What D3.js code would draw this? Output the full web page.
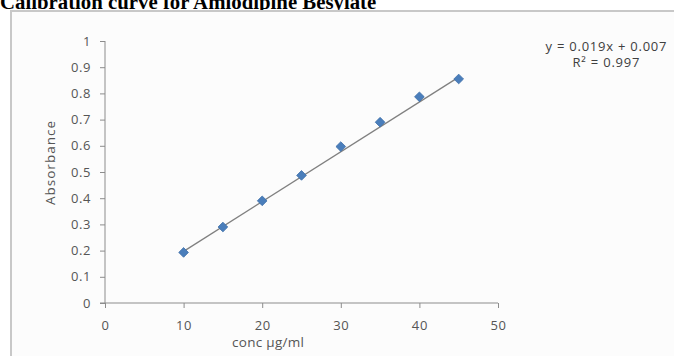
<!DOCTYPE html>
<html>
<head>
<meta charset="utf-8">
<script src="https://cdn.jsdelivr.net/npm/d3@7"></script>
<style>
  body { margin: 0; background: #fff; }
  svg { display: block; }
</style>
</head>
<body>
<script>
// data
const conc = [10, 15, 20, 25, 30, 35, 40, 45];
const absorbance = [0.193, 0.29, 0.39, 0.487, 0.597, 0.69, 0.787, 0.855];
const xTicks = [0, 10, 20, 30, 40, 50];
const yTicks = [0, 0.1, 0.2, 0.3, 0.4, 0.5, 0.6, 0.7, 0.8, 0.9, 1];
const slope = 0.019;
const intercept = 0.007;
const eqLines = ["y = 0.019x + 0.007", "R\u00b2 = 0.997"];

const width = 674, height = 356;
const svg = d3.select("body").append("svg")
   .attr("width", width)
   .attr("height", height);

// title (clipped at the top of the page, as in the source)
svg.append("text")
   .attr("x", 0).attr("y", 9)
   .attr("font-family", "'Liberation Serif', 'Times New Roman', serif")
   .attr("font-weight", "bold")
   .attr("font-size", 20.8)
   .attr("fill", "#000")
   .text("Calibration curve for Amlodipine Besylate");

// chart frame
svg.append("rect")
   .attr("x", 11).attr("y", 11)
   .attr("width", 700).attr("height", 400)
   .attr("fill", "#fcfcfc")
   .attr("stroke", "#c8c8c8")
   .attr("stroke-width", 2);

const x = d3.scaleLinear().domain([0, 50]).range([105, 498]);
const y = d3.scaleLinear().domain([0, 1]).range([303, 41]);

const font = "'Open Sans', 'Liberation Sans', sans-serif";
const axisCol = "#8c8c8c";
const textCol = "#555";

// y axis
const yAxis = svg.append("g")
   .attr("transform", "translate(" + x(0) + ",0)")
   .call(d3.axisLeft(y).tickValues(yTicks).tickSize(5).tickPadding(9).tickFormat(d => String(+d.toFixed(1))));
// x axis
const xAxis = svg.append("g")
   .attr("transform", "translate(0," + y(0) + ")")
   .call(d3.axisBottom(x).tickValues(xTicks).tickSize(5).tickPadding(13).tickFormat(d3.format("d")));

[yAxis, xAxis].forEach(g => {
   g.select(".domain").attr("stroke", axisCol).attr("stroke-width", 1);
   g.selectAll(".tick line").attr("stroke", axisCol);
   g.selectAll(".tick text")
    .attr("fill", textCol)
    .attr("font-family", font)
    .attr("font-size", 13)
    .attr("letter-spacing", 0.6);
});
xAxis.select(".domain").attr("d", "M" + (x(0) - 5) + ",0H" + x(50));
yAxis.select(".domain").attr("d", "M0," + y(1) + "V" + y(0));

// axis titles
svg.append("text")
   .attr("x", 268).attr("y", 347)
   .attr("text-anchor", "middle")
   .attr("font-family", font).attr("font-size", 13.5)
   .attr("fill", textCol)
   .attr("textLength", 72)
   .text("conc \u00b5g/ml");

svg.append("text")
   .attr("transform", "translate(55,163) rotate(-90)")
   .attr("text-anchor", "middle")
   .attr("font-family", font).attr("font-size", 13.5)
   .attr("fill", textCol)
   .attr("textLength", 84)
   .text("Absorbance");

// linear trendline over the data range
const xMin = d3.min(conc), xMax = d3.max(conc);
svg.append("line")
   .attr("x1", x(xMin)).attr("y1", y(slope * xMin + intercept))
   .attr("x2", x(xMax)).attr("y2", y(slope * xMax + intercept))
   .attr("stroke", "#808080")
   .attr("stroke-width", 1.3);

// diamond markers
svg.selectAll(".pt")
   .data(conc)
   .enter().append("path")
   .attr("class", "pt")
   .attr("d", d3.symbol().type(d3.symbolDiamond2).size(60))
   .attr("transform", (d, i) => "translate(" + x(d) + "," + y(absorbance[i]) + ")")
   .attr("fill", "#4a7ebb")
   .attr("stroke", "#3d6ea8")
   .attr("stroke-width", 0.8);

// regression equation, one text block with two lines
const eqWidths = [121, 67];
const eq = svg.append("text")
   .attr("text-anchor", "middle")
   .attr("font-family", font).attr("font-size", 13)
   .attr("fill", "#404040");
eq.selectAll("tspan")
   .data(eqLines)
   .enter().append("tspan")
   .attr("x", 606)
   .attr("y", (d, i) => 51 + i * 15.5)
   .attr("textLength", (d, i) => eqWidths[i])
   .text(d => d);
</script>
</body>
</html>
